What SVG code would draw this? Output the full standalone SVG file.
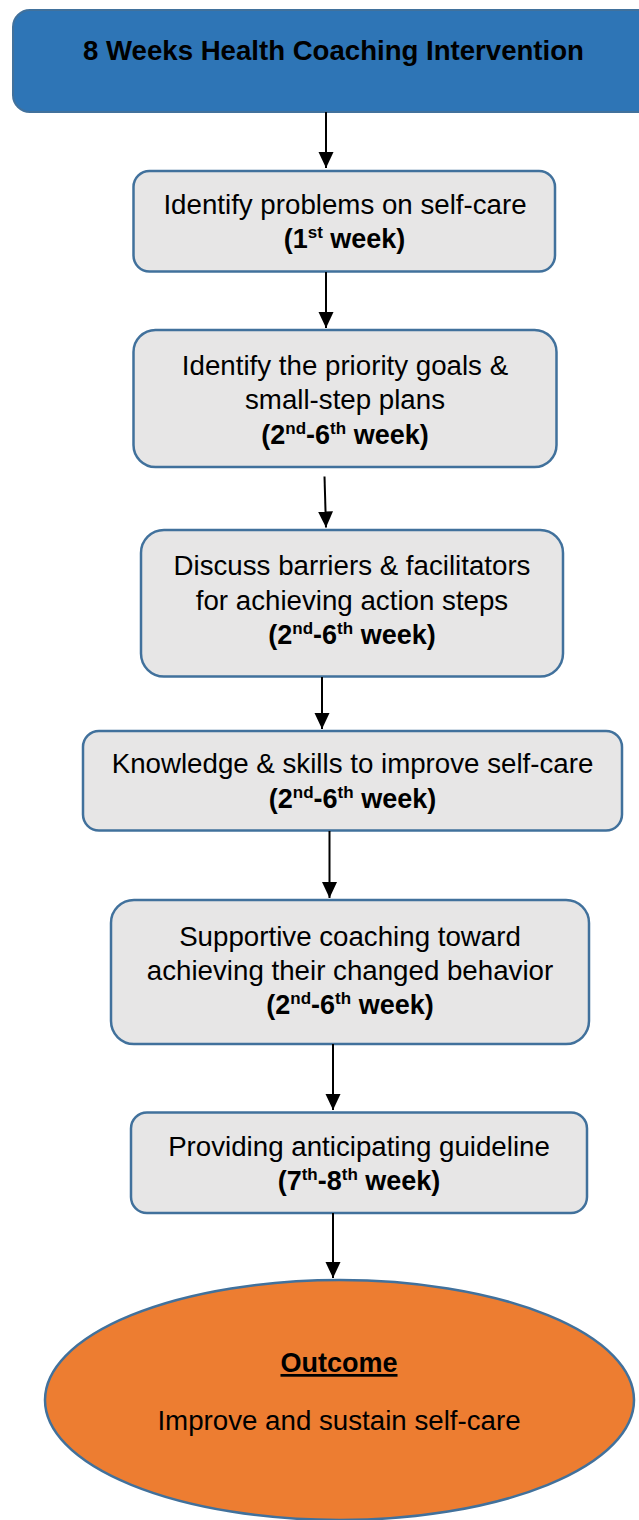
<svg xmlns="http://www.w3.org/2000/svg" width="639" height="1520" viewBox="0 0 639 1520">
<style>
  .box { fill: #E7E6E6; stroke: #41719C; stroke-width: 2.5; }
  .hdr { fill: #2E75B6; stroke: #41719C; stroke-width: 2; }
  .oval { fill: #ED7D31; stroke: #41719C; stroke-width: 2.5; }
  text { font-family: "Liberation Sans", Arial, sans-serif; fill: #000; text-anchor: middle; }
  .t { font-size: 27.7px; }
  .b { font-size: 27px; font-weight: bold; }
  .h { font-size: 27.6px; font-weight: bold; }
  .sup { font-size: 17px; }
  .conn line { stroke: #000; stroke-width: 2; }
</style>
<defs>
  <marker id="ah" markerUnits="userSpaceOnUse" markerWidth="16" markerHeight="16" viewBox="0 0 16 16" refX="16" refY="8" orient="auto">
    <path d="M0,0.5 L16,8 L0,15.5 Z" fill="#000"/>
  </marker>
</defs>

<g id="n0">
  <rect class="hdr" x="13" y="10" width="645" height="102" rx="17" ry="17"/>
  <text class="h" x="333.5" y="60">8 Weeks Health Coaching Intervention</text>
</g>

<g id="n1">
  <rect class="box" x="133.5" y="171" width="421.5" height="100.5" rx="16" ry="16"/>
  <text class="t" x="345" y="213.5">Identify problems on self-care</text>
  <text class="b" x="344.5" y="247.5">(1<tspan class="sup" dy="-10">st</tspan><tspan dy="10"> week)</tspan></text>
</g>

<g id="n2">
  <rect class="box" x="133.5" y="330" width="423" height="137" rx="22" ry="22"/>
  <text class="t" x="345" y="375">Identify the priority goals &amp;</text>
  <text class="t" x="345" y="409">small-step plans</text>
  <text class="b" x="345" y="444">(2<tspan class="sup" dy="-10">nd</tspan><tspan dy="10">-6</tspan><tspan class="sup" dy="-10">th</tspan><tspan dy="10"> week)</tspan></text>
</g>

<g id="n3">
  <rect class="box" x="141" y="530" width="422" height="146.5" rx="23" ry="23"/>
  <text class="t" x="352" y="575">Discuss barriers &amp; facilitators</text>
  <text class="t" x="352" y="610">for achieving action steps</text>
  <text class="b" x="352" y="644">(2<tspan class="sup" dy="-10">nd</tspan><tspan dy="10">-6</tspan><tspan class="sup" dy="-10">th</tspan><tspan dy="10"> week)</tspan></text>
</g>

<g id="n4">
  <rect class="box" x="83" y="731" width="539" height="99.5" rx="16" ry="16"/>
  <text class="t" x="352.5" y="773">Knowledge &amp; skills to improve self-care</text>
  <text class="b" x="352.5" y="807.5">(2<tspan class="sup" dy="-10">nd</tspan><tspan dy="10">-6</tspan><tspan class="sup" dy="-10">th</tspan><tspan dy="10"> week)</tspan></text>
</g>

<g id="n5">
  <rect class="box" x="111" y="900" width="478" height="144" rx="23" ry="23"/>
  <text class="t" x="350" y="946">Supportive coaching toward</text>
  <text class="t" x="350" y="980">achieving their changed behavior</text>
  <text class="b" x="350" y="1014">(2<tspan class="sup" dy="-10">nd</tspan><tspan dy="10">-6</tspan><tspan class="sup" dy="-10">th</tspan><tspan dy="10"> week)</tspan></text>
</g>

<g id="n6">
  <rect class="box" x="131" y="1112.5" width="456" height="100.5" rx="16" ry="16"/>
  <text class="t" x="359" y="1156">Providing anticipating guideline</text>
  <text class="b" x="359" y="1190">(7<tspan class="sup" dy="-10">th</tspan><tspan dy="10">-8</tspan><tspan class="sup" dy="-10">th</tspan><tspan dy="10"> week)</tspan></text>
</g>

<g id="n7">
  <ellipse class="oval" cx="339.5" cy="1400" rx="294.5" ry="120"/>
  <text class="b" x="339" y="1372" text-decoration="underline">Outcome</text>
  <text class="t" x="339" y="1430">Improve and sustain self-care</text>
</g>

<g id="connectors" class="conn">
  <line x1="326" y1="112" x2="326" y2="168" marker-end="url(#ah)"/>
  <line x1="326" y1="272" x2="326" y2="328" marker-end="url(#ah)"/>
  <line x1="324.5" y1="476.5" x2="326" y2="527.5" marker-end="url(#ah)"/>
  <line x1="322" y1="677" x2="322" y2="729" marker-end="url(#ah)"/>
  <line x1="329.5" y1="831" x2="329.5" y2="898" marker-end="url(#ah)"/>
  <line x1="333" y1="1044" x2="333" y2="1110" marker-end="url(#ah)"/>
  <line x1="333" y1="1213" x2="333" y2="1278" marker-end="url(#ah)"/>
</g>
</svg>
